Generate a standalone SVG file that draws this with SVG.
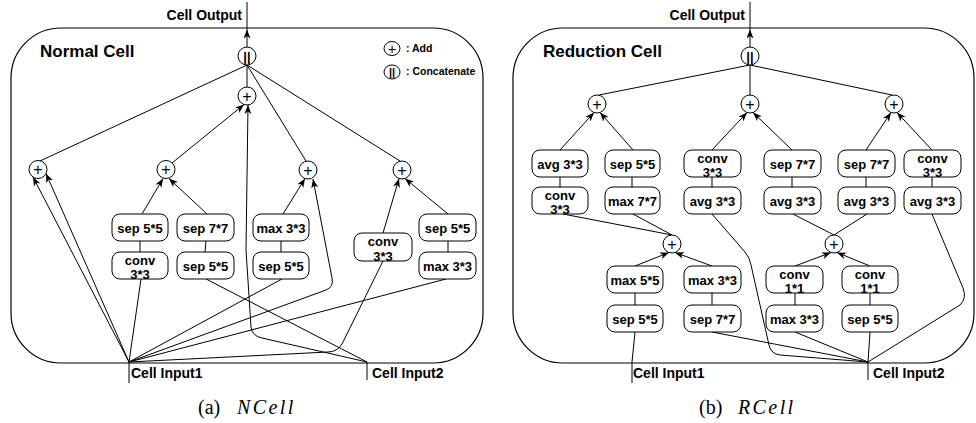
<svg xmlns="http://www.w3.org/2000/svg" width="976" height="423" viewBox="0 0 976 423">
<defs>
<marker id="arr" markerUnits="userSpaceOnUse" markerWidth="10" markerHeight="8" refX="9" refY="3.5" orient="auto">
<path d="M0,0 L9,3.5 L0,7 L2.5,3.5 Z" fill="#000"/>
</marker>
</defs>
<style>
.cell{fill:#fff;stroke:#000;stroke-width:1.2}
.box{fill:#fff;stroke:#000;stroke-width:1}
.nd{fill:#fff;stroke:#000;stroke-width:1}
.t{font-family:"Liberation Sans",Arial,sans-serif;font-weight:bold;font-size:13px;text-anchor:middle;fill:#000}
.lab{font-family:"Liberation Sans",Arial,sans-serif;font-weight:bold;font-size:14px;fill:#000}
.title{font-family:"Liberation Sans",Arial,sans-serif;font-weight:bold;font-size:17px;fill:#000}
.leg{font-family:"Liberation Sans",Arial,sans-serif;font-weight:bold;font-size:10.5px;fill:#000}
.sym{font-family:"Liberation Sans",Arial,sans-serif;font-size:16px;text-anchor:middle;fill:#000}
.bar{font-family:"Liberation Sans",Arial,sans-serif;font-weight:bold;font-size:13px;text-anchor:middle;fill:#000}
.cap{font-family:"Liberation Serif","Times New Roman",serif;font-size:20px;fill:#000}
.it{font-style:italic;letter-spacing:2.4px}
.e{fill:none;stroke:#000;stroke-width:1}
.a{marker-end:url(#arr)}
</style>
<rect width="976" height="423" fill="#fff"/>

<!-- ============ LEFT: Normal Cell ============ -->
<g id="normal-cell">
<rect class="cell" x="11" y="28" width="472" height="335" rx="50" ry="50"/>
<text class="title" x="40" y="57">Normal Cell</text>
</g>
<g id="legend">
<ellipse class="nd" cx="392" cy="48.5" rx="8" ry="7"/>
<text class="sym" x="392" y="54" style="font-size:14px">+</text>
<text class="leg" x="406" y="52">: Add</text>
<ellipse class="nd" cx="392" cy="72" rx="8" ry="7"/>
<text class="bar" x="392" y="76" style="font-size:11px">||</text>
<text class="leg" x="406" y="75">: Concatenate</text>
</g>

<g id="l-connectors">
<line class="e a" x1="247" y1="47" x2="247" y2="29.5"/>
<line class="e" x1="247" y1="29.5" x2="247" y2="2"/>
<line class="e" x1="247" y1="65" x2="247" y2="87"/>
<line class="e" x1="247" y1="65" x2="40" y2="161"/>
<line class="e" x1="247" y1="65" x2="306" y2="161"/>
<line class="e" x1="247" y1="65" x2="400" y2="161"/>
<line class="e a" x1="172" y1="163" x2="244" y2="104.5"/>
<path class="e a" d="M367,362 L262,338 Q252,336 251,327 L246,250 L248,105"/>
<line class="e a" x1="129" y1="362" x2="33" y2="177"/>
<line class="e a" x1="129" y1="362" x2="46" y2="173.5"/>
<line class="e a" x1="142" y1="214" x2="163" y2="178.5"/>
<line class="e a" x1="207" y1="214" x2="169" y2="178.5"/>
<line class="e" x1="140" y1="241" x2="140" y2="252"/>
<line class="e" x1="206" y1="241" x2="205" y2="252"/>
<line class="e" x1="141" y1="279" x2="129" y2="362"/>
<line class="e" x1="206" y1="279" x2="367" y2="362"/>
<line class="e a" x1="283" y1="214" x2="305" y2="178.5"/>
<path class="e a" d="M129,362 L326,290 Q334,287 332,278 L313,179"/>
<line class="e" x1="281" y1="241" x2="281" y2="252"/>
<line class="e" x1="282" y1="279" x2="129" y2="362"/>
<line class="e a" x1="383" y1="233" x2="399" y2="178.5"/>
<line class="e a" x1="448" y1="214" x2="405" y2="178.5"/>
<line class="e" x1="448" y1="241" x2="448" y2="252"/>
<line class="e" x1="446" y1="279" x2="129" y2="362"/>
<path class="e" d="M129,362 L328,352 Q337,352 342,344 L383,261"/>
<line class="e" x1="129" y1="362" x2="129" y2="383"/>
<line class="e" x1="367" y1="362" x2="367" y2="380"/>
</g>

<g id="l-concat"><circle class="nd" cx="247" cy="56" r="9"/><text class="bar" x="247" y="60.5">||</text></g>
<g id="l-add-top"><circle class="nd" cx="247" cy="96" r="9"/><text class="sym" x="247" y="101.7">+</text></g>
<g id="l-add-a"><circle class="nd" cx="38" cy="169.5" r="9"/><text class="sym" x="38" y="175.2">+</text></g>
<g id="l-add-b"><circle class="nd" cx="166" cy="169.5" r="9"/><text class="sym" x="166" y="175.2">+</text></g>
<g id="l-add-c"><circle class="nd" cx="308" cy="170" r="9"/><text class="sym" x="308" y="175.7">+</text></g>
<g id="l-add-d"><circle class="nd" cx="402" cy="170" r="9"/><text class="sym" x="402" y="175.7">+</text></g>

<g id="l-sep55-a"><rect class="box" x="112" y="214" width="56" height="27" rx="8"/><text class="t" x="140" y="232.5">sep 5*5</text></g>
<g id="l-conv33-a"><rect class="box" x="112" y="252" width="56" height="27" rx="8"/><text class="t" x="140" y="264.5">conv</text><text class="t" x="140" y="279">3*3</text></g>
<g id="l-sep77"><rect class="box" x="177" y="214" width="57" height="27" rx="8"/><text class="t" x="205.5" y="232.5">sep 7*7</text></g>
<g id="l-sep55-b"><rect class="box" x="177" y="252" width="57" height="27" rx="8"/><text class="t" x="205.5" y="270.5">sep 5*5</text></g>
<g id="l-max33-a"><rect class="box" x="253" y="214" width="56" height="27" rx="8"/><text class="t" x="281" y="232.5">max 3*3</text></g>
<g id="l-sep55-c"><rect class="box" x="253" y="252" width="56" height="27" rx="8"/><text class="t" x="281" y="270.5">sep 5*5</text></g>
<g id="l-conv33-b"><rect class="box" x="354" y="233" width="58" height="28" rx="8"/><text class="t" x="383" y="246">conv</text><text class="t" x="383" y="260.5">3*3</text></g>
<g id="l-sep55-d"><rect class="box" x="419" y="214" width="57" height="27" rx="8"/><text class="t" x="447.5" y="232.5">sep 5*5</text></g>
<g id="l-max33-b"><rect class="box" x="419" y="252" width="57" height="27" rx="8"/><text class="t" x="447.5" y="270.5">max 3*3</text></g>

<text class="lab" x="242" y="20" text-anchor="end">Cell Output</text>
<text class="lab" x="131" y="378">Cell Input1</text>
<text class="lab" x="372" y="378">Cell Input2</text>
<text class="cap" x="198" y="414">(a) <tspan class="it" x="237">NCell</tspan></text>

<!-- ============ RIGHT: Reduction Cell ============ -->
<g id="reduction-cell">
<rect class="cell" x="513" y="28" width="461" height="335" rx="50" ry="50"/>
<text class="title" x="543" y="57">Reduction Cell</text>
</g>

<g id="r-connectors">
<line class="e a" x1="750" y1="47" x2="750" y2="29.5"/>
<line class="e" x1="750" y1="29.5" x2="750" y2="2"/>
<line class="e" x1="750" y1="65" x2="599" y2="95"/>
<line class="e" x1="750" y1="65" x2="750" y2="95"/>
<line class="e" x1="750" y1="65" x2="892" y2="95"/>
<line class="e a" x1="560" y1="150" x2="594" y2="112.5"/>
<line class="e a" x1="633" y1="150" x2="600" y2="112.5"/>
<line class="e a" x1="712" y1="150" x2="747" y2="112.5"/>
<line class="e a" x1="792" y1="150" x2="753" y2="112.5"/>
<line class="e a" x1="866" y1="150" x2="891" y2="112.5"/>
<line class="e a" x1="932" y1="150" x2="897" y2="112.5"/>
<line class="e" x1="560" y1="177" x2="560" y2="187"/>
<line class="e" x1="632" y1="177" x2="632" y2="187"/>
<line class="e" x1="712" y1="177" x2="712" y2="187"/>
<line class="e" x1="792" y1="177" x2="792" y2="187"/>
<line class="e" x1="866" y1="177" x2="866" y2="187"/>
<line class="e" x1="932" y1="177" x2="932" y2="187"/>
<line class="e" x1="672" y1="235" x2="563" y2="214"/>
<line class="e" x1="672" y1="235" x2="633" y2="214"/>
<line class="e a" x1="635" y1="266" x2="669" y2="252.5"/>
<line class="e a" x1="712" y1="266" x2="675" y2="252.5"/>
<line class="e" x1="834" y1="235" x2="793" y2="214"/>
<line class="e" x1="834" y1="235" x2="867" y2="214"/>
<line class="e a" x1="795" y1="266" x2="831" y2="252.5"/>
<line class="e a" x1="870" y1="266" x2="837" y2="252.5"/>
<line class="e" x1="635" y1="293" x2="635" y2="305"/>
<line class="e" x1="712" y1="293" x2="712" y2="305"/>
<line class="e" x1="795" y1="293" x2="795" y2="305"/>
<line class="e" x1="870" y1="293" x2="870" y2="305"/>
<line class="e" x1="635" y1="332" x2="632" y2="362"/>
<line class="e" x1="632" y1="362" x2="632" y2="383"/>
<line class="e" x1="712" y1="332" x2="868" y2="362"/>
<line class="e" x1="795" y1="332" x2="868" y2="362"/>
<line class="e" x1="870" y1="332" x2="868" y2="362"/>
<path class="e" d="M712,214 L745,252 Q750,258 751,265 L769,345 Q771,354 780,355 L868,362"/>
<path class="e" d="M932,214 L963,288 Q967,298 960,305 L868,362"/>
<line class="e" x1="868" y1="362" x2="868" y2="380"/>
</g>

<g id="r-concat"><circle class="nd" cx="750" cy="56" r="9"/><text class="bar" x="750" y="60.5">||</text></g>
<g id="r-add-l"><circle class="nd" cx="597" cy="104" r="9"/><text class="sym" x="597" y="109.7">+</text></g>
<g id="r-add-m"><circle class="nd" cx="750" cy="104" r="9"/><text class="sym" x="750" y="109.7">+</text></g>
<g id="r-add-r"><circle class="nd" cx="894" cy="104" r="9"/><text class="sym" x="894" y="109.7">+</text></g>
<g id="r-add-low-l"><circle class="nd" cx="672" cy="244" r="9"/><text class="sym" x="672" y="249.7">+</text></g>
<g id="r-add-low-r"><circle class="nd" cx="834" cy="244" r="9"/><text class="sym" x="834" y="249.7">+</text></g>

<g id="r-avg33-1"><rect class="box" x="532" y="150" width="56" height="27" rx="8"/><text class="t" x="560" y="168.5">avg 3*3</text></g>
<g id="r-sep55-1"><rect class="box" x="605" y="150" width="55" height="27" rx="8"/><text class="t" x="632.5" y="168.5">sep 5*5</text></g>
<g id="r-conv33-1"><rect class="box" x="684" y="150" width="57" height="27" rx="8"/><text class="t" x="712.5" y="162.5">conv</text><text class="t" x="712.5" y="177">3*3</text></g>
<g id="r-sep77-1"><rect class="box" x="764" y="150" width="57" height="27" rx="8"/><text class="t" x="792.5" y="168.5">sep 7*7</text></g>
<g id="r-sep77-2"><rect class="box" x="838" y="150" width="57" height="27" rx="8"/><text class="t" x="866.5" y="168.5">sep 7*7</text></g>
<g id="r-conv33-2"><rect class="box" x="904" y="150" width="57" height="27" rx="8"/><text class="t" x="932.5" y="162.5">conv</text><text class="t" x="932.5" y="177">3*3</text></g>

<g id="r-conv33-3"><rect class="box" x="532" y="187" width="56" height="27" rx="8"/><text class="t" x="560" y="199.5">conv</text><text class="t" x="560" y="214">3*3</text></g>
<g id="r-max77"><rect class="box" x="605" y="187" width="55" height="27" rx="8"/><text class="t" x="632.5" y="205.5">max 7*7</text></g>
<g id="r-avg33-2"><rect class="box" x="684" y="187" width="57" height="27" rx="8"/><text class="t" x="712.5" y="205.5">avg 3*3</text></g>
<g id="r-avg33-3"><rect class="box" x="764" y="187" width="57" height="27" rx="8"/><text class="t" x="792.5" y="205.5">avg 3*3</text></g>
<g id="r-avg33-4"><rect class="box" x="838" y="187" width="57" height="27" rx="8"/><text class="t" x="866.5" y="205.5">avg 3*3</text></g>
<g id="r-avg33-5"><rect class="box" x="904" y="187" width="57" height="27" rx="8"/><text class="t" x="932.5" y="205.5">avg 3*3</text></g>

<g id="r-max55"><rect class="box" x="607" y="266" width="56" height="27" rx="8"/><text class="t" x="635" y="284.5">max 5*5</text></g>
<g id="r-max33-1"><rect class="box" x="684" y="266" width="57" height="27" rx="8"/><text class="t" x="712.5" y="284.5">max 3*3</text></g>
<g id="r-conv11-1"><rect class="box" x="766" y="266" width="57" height="27" rx="8"/><text class="t" x="794.5" y="278.5">conv</text><text class="t" x="794.5" y="293">1*1</text></g>
<g id="r-conv11-2"><rect class="box" x="842" y="266" width="56" height="27" rx="8"/><text class="t" x="870" y="278.5">conv</text><text class="t" x="870" y="293">1*1</text></g>

<g id="r-sep55-2"><rect class="box" x="607" y="305" width="56" height="27" rx="8"/><text class="t" x="635" y="323.5">sep 5*5</text></g>
<g id="r-sep77-3"><rect class="box" x="684" y="305" width="57" height="27" rx="8"/><text class="t" x="712.5" y="323.5">sep 7*7</text></g>
<g id="r-max33-2"><rect class="box" x="766" y="305" width="57" height="27" rx="8"/><text class="t" x="794.5" y="323.5">max 3*3</text></g>
<g id="r-sep55-3"><rect class="box" x="842" y="305" width="56" height="27" rx="8"/><text class="t" x="870" y="323.5">sep 5*5</text></g>

<text class="lab" x="745" y="20" text-anchor="end">Cell Output</text>
<text class="lab" x="633" y="378">Cell Input1</text>
<text class="lab" x="873" y="378">Cell Input2</text>
<text class="cap" x="699" y="414">(b) <tspan class="it" x="738">RCell</tspan></text>
</svg>
